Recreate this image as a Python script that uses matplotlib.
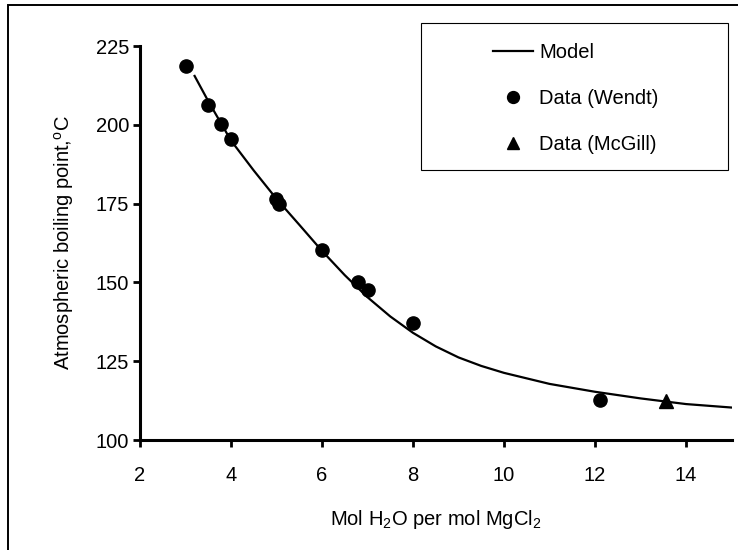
import matplotlib
matplotlib.use("Agg")
import matplotlib.pyplot as plt
from matplotlib.patches import Rectangle

plt.rcParams['font.family'] = ['Liberation Sans', 'DejaVu Sans']
plt.rcParams['mathtext.default'] = 'regular'

# model curve
model_x = [3.2, 3.5, 4.0, 4.5, 5.0, 5.5, 6.0, 6.5, 7.0, 7.5, 8.0, 8.5, 9.0, 9.5, 10.0, 11.0, 12.0, 13.0, 14.0, 15.0]
model_y = [215.5, 207.5, 195.0, 185.5, 176.5, 168.3, 160.0, 152.3, 145.3, 139.2, 134.0, 129.7, 126.2, 123.5, 121.3, 117.8, 115.3, 113.2, 111.4, 110.3]

# measured data
wendt_x = [3.0, 3.5, 3.78, 4.0, 4.98, 5.05, 6.0, 6.8, 7.0, 8.0, 12.1]
wendt_y = [218.6, 206.3, 200.1, 195.4, 176.4, 175.0, 160.4, 150.2, 147.6, 137.0, 112.8]
mcgill_x = [13.55]
mcgill_y = [112.3]

x_ticks = [2, 4, 6, 8, 10, 12, 14]
y_ticks = [100, 125, 150, 175, 200, 225]

fs = 14.5

fig = plt.figure(figsize=(7.38, 5.5), dpi=100)
ax = fig.add_axes([140 / 738, 1 - 440 / 550, (731.5 - 140) / 738, (440 - 46) / 550])

ax.plot(model_x, model_y, color='black', lw=1.6, label='Model')
ax.plot(wendt_x, wendt_y, 'o', color='black', ms=9.5, ls='none', label='Data (Wendt)')
ax.plot(mcgill_x, mcgill_y, '^', color='black', ms=10, ls='none', label='Data (McGill)')

ax.set_xlim(2, 15)
ax.set_ylim(100, 225)
ax.set_xticks(x_ticks)
ax.set_yticks(y_ticks)

for side in ['top', 'right']:
    ax.spines[side].set_visible(False)
for side in ['left', 'bottom']:
    ax.spines[side].set_linewidth(2.2)

ax.tick_params(axis='both', direction='out', length=5, width=2, labelsize=fs, color='black')
ax.tick_params(axis='x', pad=14)
ax.tick_params(axis='y', pad=3)

ax.set_xlabel('Mol H$_2$O per mol MgCl$_2$', fontsize=fs, labelpad=16)
ax.set_ylabel('Atmospheric boiling point,$^{o}$C', fontsize=fs, labelpad=14)

# legend box
fig.patches.append(Rectangle((421 / 738, 1 - 170 / 550), (728 - 421) / 738, (170 - 23) / 550,
                             transform=fig.transFigure, fill=False, edgecolor='black', lw=0.8))
handles, labels = ax.get_legend_handles_labels()
fig.legend(handles, labels, loc='upper left', bbox_to_anchor=(493 / 738, 1 - 43 / 550),
           frameon=False, fontsize=fs, borderpad=0, borderaxespad=0,
           handlelength=2.0, handletextpad=0.3, labelspacing=1.35, markerscale=0.9)

# outer frame
fig.patches.append(Rectangle((8 / 738, -0.1), 1.0, 0.1 + 1 - 5 / 550,
                             transform=fig.transFigure, fill=False, edgecolor='black', lw=1.4))

fig.savefig('out.png', dpi=100)
